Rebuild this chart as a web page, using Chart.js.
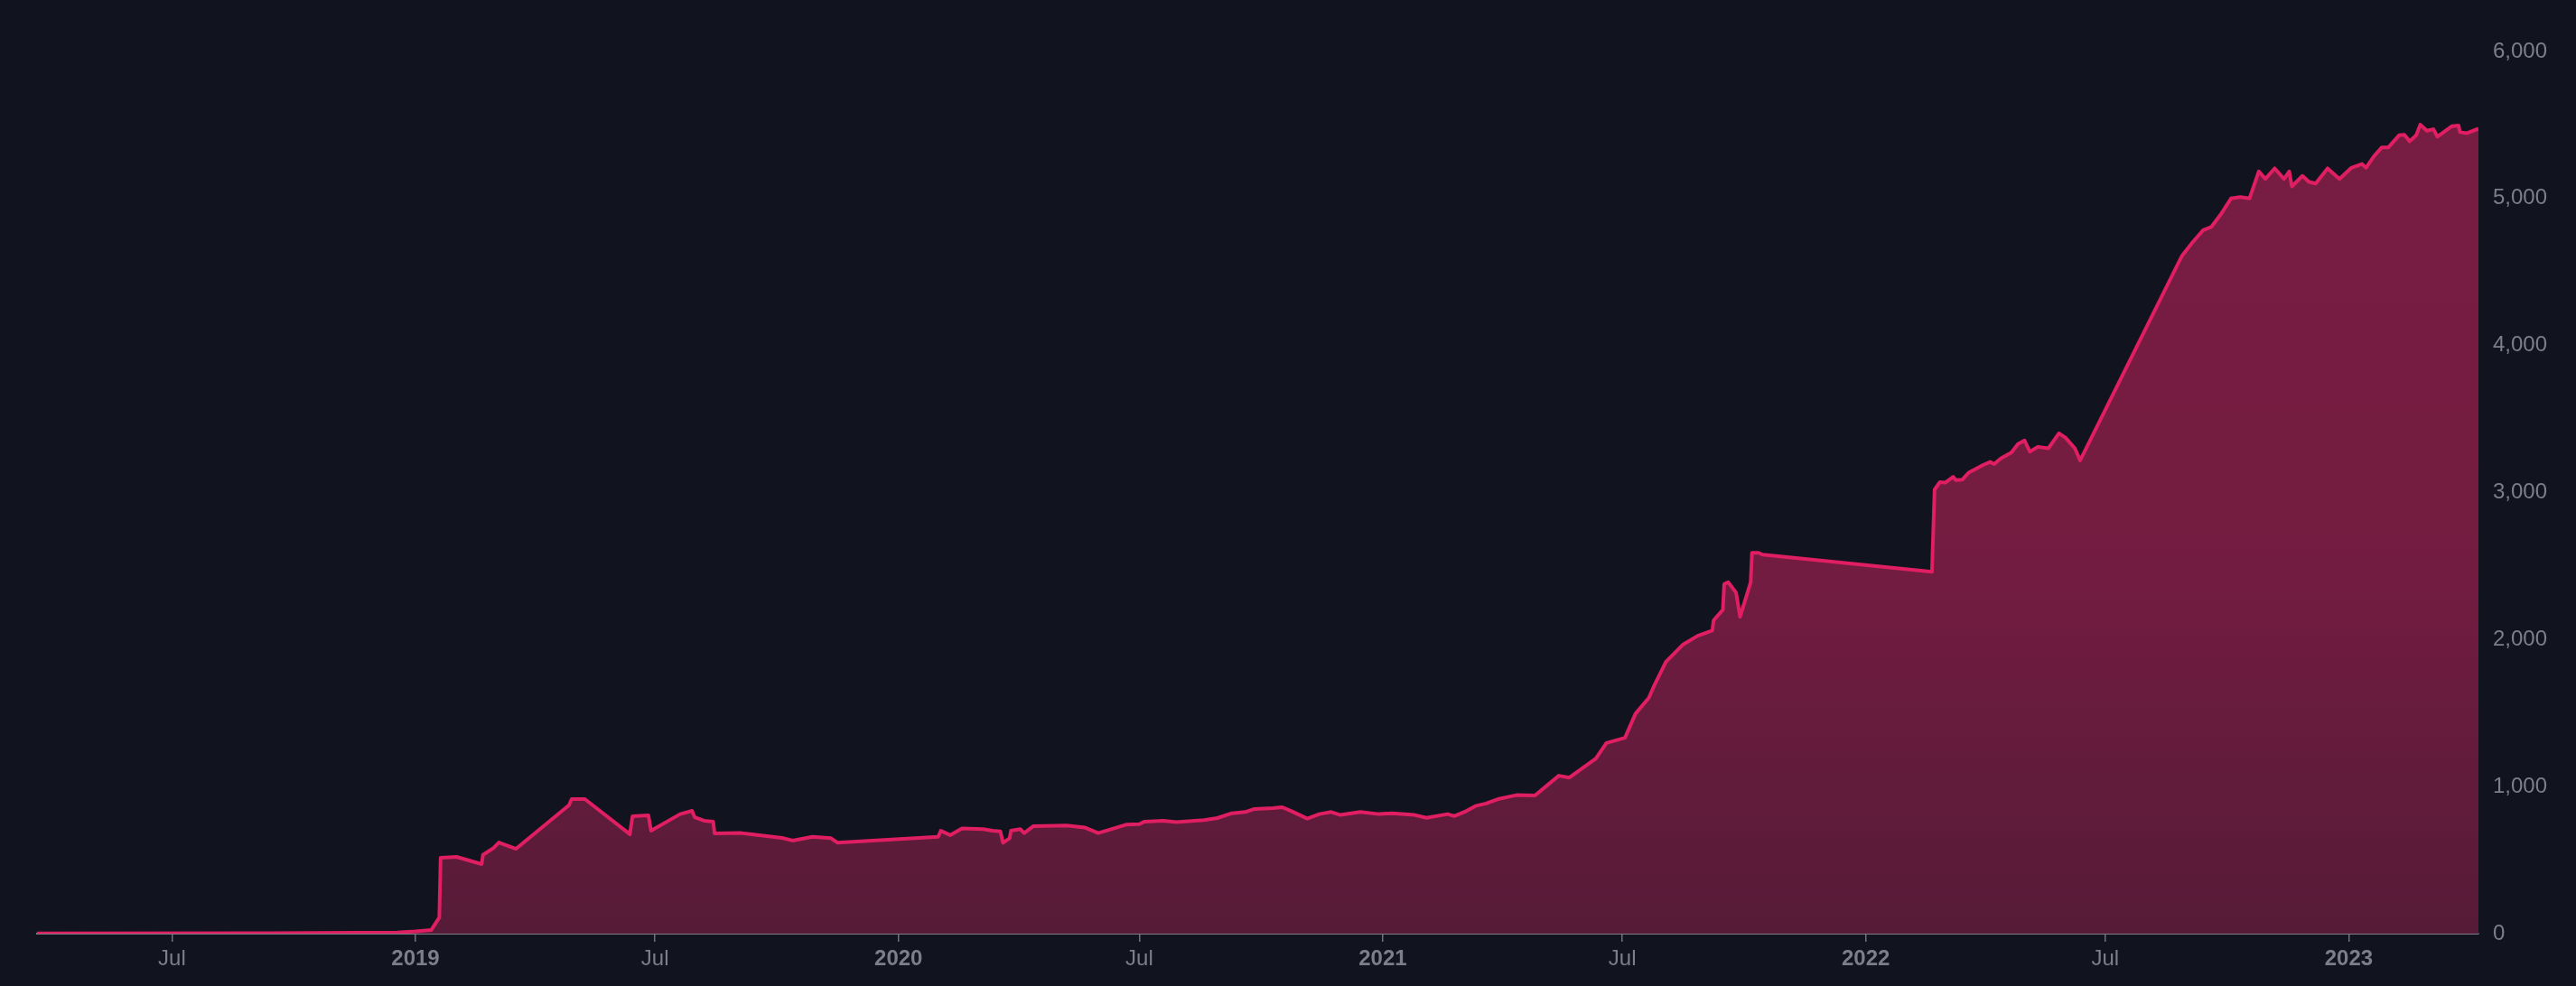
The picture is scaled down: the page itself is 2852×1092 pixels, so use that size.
<!DOCTYPE html>
<html><head><meta charset="utf-8">
<script src="https://cdn.jsdelivr.net/npm/chart.js@4.4.1/dist/chart.umd.min.js"></script>
<style>html,body{margin:0;padding:0;background:#11131f;} #wrap{position:relative;width:2852px;height:1092px;}</style>
</head><body><div id="wrap"><canvas id="c"></canvas></div>
<script>
const dates = [
'2018-03-21','2018-09-14','2018-12-18',
'2019-01-01','2019-01-13','2019-01-19','2019-01-20','2019-02-01','2019-02-20','2019-02-21','2019-03-01','2019-03-05','2019-03-18',
'2019-04-27','2019-04-29','2019-05-09','2019-06-12','2019-06-14','2019-06-26','2019-06-28','2019-07-20','2019-07-29','2019-07-31',
'2019-08-07','2019-08-14','2019-08-15','2019-09-04','2019-09-12','2019-10-05','2019-10-13','2019-10-28','2019-11-11','2019-11-16',
'2020-01-31','2020-02-02','2020-02-09','2020-02-18','2020-03-05','2020-03-12','2020-03-18','2020-03-20','2020-03-25','2020-03-26',
'2020-04-02','2020-04-05','2020-04-12','2020-05-07','2020-05-21','2020-05-31','2020-06-21','2020-07-01','2020-07-05','2020-07-19',
'2020-07-29','2020-08-19','2020-08-29','2020-09-09','2020-09-19','2020-09-26','2020-10-10','2020-10-17','2020-10-24','2020-11-05',
'2020-11-14','2020-11-23','2020-11-30','2020-12-15','2020-12-29',
'2021-01-08','2021-01-25','2021-02-03','2021-02-19','2021-02-24','2021-03-05','2021-03-12','2021-03-20','2021-03-29','2021-04-12',
'2021-04-26','2021-05-14','2021-05-22','2021-06-11','2021-06-19','2021-07-03','2021-07-11','2021-07-21','2021-07-25','2021-08-03',
'2021-08-16','2021-08-27','2021-09-07','2021-09-08','2021-09-15','2021-09-16','2021-09-19','2021-09-25','2021-09-28','2021-10-06',
'2021-10-07','2021-10-12','2021-10-15',
'2022-02-20','2022-02-22','2022-02-26','2022-03-02','2022-03-08','2022-03-10','2022-03-15','2022-03-20','2022-03-31','2022-04-05',
'2022-04-08','2022-04-13','2022-04-21','2022-04-26','2022-05-01','2022-05-05','2022-05-11','2022-05-19','2022-05-27','2022-06-01',
'2022-06-08','2022-06-12',
'2022-08-28','2022-09-05','2022-09-13','2022-09-19','2022-09-26','2022-10-04','2022-10-11','2022-10-18','2022-10-25','2022-10-30',
'2022-11-06','2022-11-13','2022-11-17','2022-11-19','2022-11-27','2022-12-02','2022-12-07','2022-12-16','2022-12-25',
'2023-01-03','2023-01-11','2023-01-14','2023-01-20','2023-01-26','2023-01-31','2023-02-08','2023-02-12','2023-02-16','2023-02-21',
'2023-02-24','2023-03-01','2023-03-06','2023-03-09','2023-03-20','2023-03-25','2023-03-26','2023-03-31','2023-04-09'
];
const values = [
2,3,8,
15,25,110,516,522,473,536,583,620,577,
874,915,915,676,798,805,700,813,835,792,
768,762,682,684,676,651,633,659,649,618,
659,700,670,715,711,700,696,618,649,700,
711,684,731,735,721,684,741,745,762,768,
758,772,786,819,827,848,854,860,833,782,
813,827,807,827,813,
819,807,788,813,799,833,868,885,915,942,
940,1074,1061,1191,1297,1332,1496,1603,1685,1849,
1967,2026,2061,2131,2202,2378,2390,2319,2155,2390,
2590,2590,2578,
2461,3020,3071,3067,3107,3084,3088,3137,3189,3208,
3194,3232,3272,3330,3354,3278,3311,3301,3403,3372,
3301,3219,
4611,4703,4785,4806,4888,5000,5010,5000,5184,5133,
5205,5133,5184,5082,5154,5113,5102,5205,5133,
5209,5235,5209,5287,5348,5348,5430,5434,5389,5430,
5502,5461,5471,5420,5492,5496,5451,5444,5475
];
const tickDates = ['2018-07-01','2019-01-01','2019-07-01','2020-01-01','2020-07-01','2021-01-01','2021-07-01','2022-01-01','2022-07-01','2023-01-01'];
const tickLabels = ['Jul','2019','Jul','2020','Jul','2021','Jul','2022','Jul','2023'];
const yTicks = [0,1000,2000,3000,4000,5000,6000];

const points = dates.map((d,i)=>({x: Date.parse(d), y: values[i]}));
const FONT = "'Liberation Sans', Arial, Helvetica, sans-serif";

new Chart(document.getElementById('c'), {
  type: 'line',
  data: { datasets: [{
    data: points,
    borderColor: '#e01e62',
    borderWidth: 4,
    borderJoinStyle: 'round',
    pointRadius: 0,
    tension: 0,
    fill: 'origin',
    backgroundColor: (c) => {
      const a = c.chart.chartArea;
      if (!a) return '#6a1c3f';
      const g = c.chart.ctx.createLinearGradient(0, a.top, 0, a.bottom);
      g.addColorStop(0, '#781c42');
      g.addColorStop(0.55, '#751c41');
      g.addColorStop(1, '#561b38');
      return g;
    }
  }]},
  options: {
    responsive: true, maintainAspectRatio: false, animation: false,
    layout: { padding: { left: 41, top: 57, right: 0, bottom: 0 } },
    plugins: { legend: { display: false }, tooltip: { enabled: false } },
    scales: {
      x: {
        type: 'linear',
        min: Date.parse(dates[0]),
        max: Date.parse(dates[dates.length-1]),
        afterBuildTicks: s => { s.ticks = tickDates.map((d,i)=>({value: Date.parse(d), major: tickLabels[i] !== 'Jul'})); },
        afterFit: s => { s.height = 58; },
        grid: { display: true, drawOnChartArea: false, drawTicks: true, tickLength: 9, color: '#6f717b', lineWidth: 1.5 },
        border: { display: true, color: '#7f8087', width: 2 },
        ticks: {
          autoSkip: false, maxRotation: 0, minRotation: 0, padding: 5, color: '#7c7f8a',
          callback: (v, i) => tickLabels[i],
          font: (c) => ({ family: FONT, size: 24, weight: (c.tick && c.tick.major) ? 'bold' : 'normal' })
        }
      },
      y: {
        position: 'right', min: 0, max: 6000,
        afterBuildTicks: s => { s.ticks = yTicks.map(v => ({value: v})); },
        afterFit: s => { s.width = 108; },
        grid: { display: false, drawTicks: false },
        border: { display: false },
        ticks: { padding: 16, color: '#7c7f8a', font: { family: FONT, size: 24 },
          callback: v => Number(v).toLocaleString('en-US') }
      }
    }
  }
});
</script>
</body></html>
